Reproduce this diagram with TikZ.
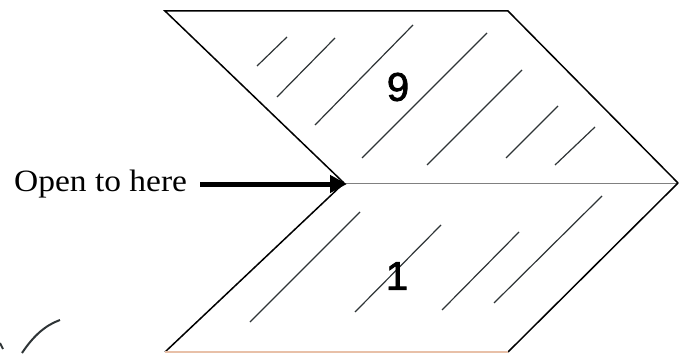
\documentclass[tikz,border=0pt]{standalone}
\usepackage{fontspec}
\setmainfont{Liberation Serif}
\newfontfamily\digitfont[FakeBold=2]{Liberation Sans}
\usetikzlibrary{arrows.meta}
\definecolor{hatchgray}{HTML}{2E3436}
\definecolor{faintedge}{HTML}{E8C0A8}
\tikzset{
  edge/.style={line width=1.5pt, black, line join=miter},
  hatch/.style={line width=1.2pt, hatchgray},
  fold/.style={line width=1pt, gray},
  digit/.style={font=\digitfont\fontsize{40}{40}\selectfont, inner sep=0pt},
  label/.style={font=\fontsize{31}{31}\selectfont, inner sep=0pt, anchor=west},
  pointer/.style={line width=5pt, -{Triangle[length=17pt,width=17pt]}}
}
\begin{document}
\begin{tikzpicture}[x=1pt,y=-1pt]
\useasboundingbox (0,0) rectangle (687,353);
% corners
\coordinate (tl) at (165,11);
\coordinate (tr) at (508,11);
\coordinate (ml) at (344,183);
\coordinate (mr) at (678,183);
\coordinate (bl) at (165,352);
\coordinate (br) at (508,352);
% top panel
\draw[edge] (ml) -- (tl) -- (tr) -- (mr);
\draw[fold] (ml) -- (mr);
% bottom panel
\draw[edge] (ml) -- (bl);
\draw[edge] (mr) -- (br);
\draw[line width=1.5pt, faintedge] (bl) -- (br);
% hatching top
\draw[hatch] (257,66) -- (287,37);
\draw[hatch] (277,97) -- (335,38);
\draw[hatch] (315,125) -- (413,25);
\draw[hatch] (362,158) -- (487,33);
\draw[hatch] (427,165) -- (522,70);
\draw[hatch] (506,158) -- (558,106);
\draw[hatch] (555,165) -- (595,127);
% hatching bottom
\draw[hatch] (250,322) -- (360,212);
\draw[hatch] (355,312) -- (441,225);
\draw[hatch] (442,310) -- (519,232);
\draw[hatch] (494,303) -- (602,196);
% digits
\node[digit] (nine) at (398,87) {9};
\node[digit] (one) at (397,276) {1};
% label and arrow
\node[label] (lbl) at (14,184) {\addfontfeature{FakeStretch=1.08}Open to here};
\coordinate (tip) at (347,184);
\draw[pointer] (200,184) -- (tip);
% stray marks
\draw[line width=2pt, hatchgray] (22,353) .. controls (34,335) and (46,325) .. (60,320);
\draw[line width=2pt, hatchgray] (0,343) -- (3,349);
\end{tikzpicture}
\end{document}
